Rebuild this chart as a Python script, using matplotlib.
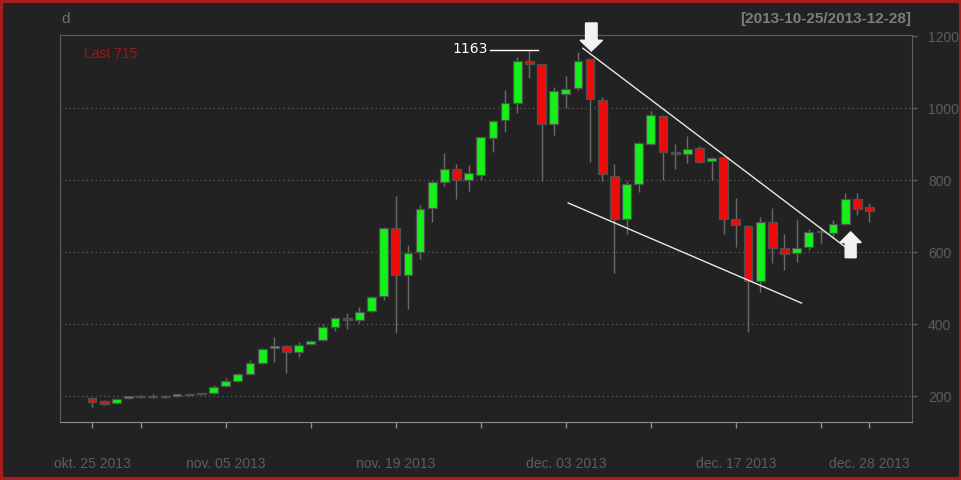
import numpy as np
import pandas as pd
import matplotlib
matplotlib.use("Agg")
import matplotlib.pyplot as plt
from matplotlib.patches import Rectangle

# daily OHLC, 2013-10-25 .. 2013-12-28
dates = [d.strftime("%Y-%m-%d") for d in pd.date_range("2013-10-25", "2013-12-28")]
opens = [194, 188, 181, 196, 197, 202, 197, 202, 203, 206,
         208, 228, 242, 263, 292, 333, 341, 322, 344, 356,
         393, 417, 412, 437, 478, 668, 537, 602, 722, 795,
         831, 800, 814, 917, 967, 1014, 1132, 1122, 955, 1040,
         1056, 1136, 1023, 812, 693, 789, 900, 979, 879, 874,
         890, 853, 864, 692, 674, 521, 685, 611, 597, 614,
         655, 653, 679, 747, 725]
highs = [196, 190, 195, 198, 204, 205, 204, 204, 205, 208,
         230, 252, 266, 300, 334, 365, 343, 350, 356, 400,
         420, 430, 449, 479, 670, 756, 620, 731, 797, 877,
         844, 842, 921, 968, 1051, 1143, 1163, 1124, 1058, 1090,
         1156, 1138, 1032, 844, 799, 905, 992, 981, 901, 923,
         896, 866, 866, 750, 676, 699, 722, 650, 692, 664,
         671, 690, 764, 764, 736]
lows = [170, 176, 179, 192, 195, 195, 194, 199, 200, 204,
        206, 226, 240, 261, 289, 296, 264, 310, 342, 354,
        380, 388, 404, 435, 467, 377, 442, 581, 685, 785,
        747, 771, 800, 879, 935, 988, 1083, 799, 926, 1000,
        1050, 850, 799, 542, 651, 767, 897, 801, 831, 849,
        848, 801, 651, 614, 379, 490, 569, 551, 574, 606,
        627, 640, 677, 703, 685]
closes = [185, 179, 193, 196, 202, 197, 202, 202, 203, 206,
          227, 242, 263, 292, 332, 341, 322, 343, 354, 393,
          417, 412, 435, 477, 668, 536, 599, 721, 795, 831,
          800, 819, 919, 966, 1016, 1132, 1123, 956, 1048, 1054,
          1132, 1025, 817, 692, 789, 903, 980, 879, 873, 887,
          852, 863, 692, 675, 521, 685, 611, 595, 613, 655,
          655, 678, 747, 721, 715]

tick_marks = ["2013-10-25", "2013-10-29", "2013-11-05", "2013-11-12", "2013-11-19",
              "2013-11-26", "2013-12-03", "2013-12-10", "2013-12-17", "2013-12-24",
              "2013-12-28"]
tick_labels = ["okt. 25 2013", "", "nov. 05 2013", "", "nov. 19 2013", "",
               "dec. 03 2013", "", "dec. 17 2013", "", "dec. 28 2013"]
y_ticks = [200, 400, 600, 800, 1000, 1200]

# hand drawn annotations (index, price)
trend_upper = [(40.4, 1167), (62.0, 615)]
trend_lower = [(39.2, 737), (58.4, 459)]
peak_idx = 36
down_arrow_idx = 41.1
up_arrow_idx = 62.45

BG = "#222222"
GREEN = "#16f01a"
RED = "#f00a0a"
AXC = "#5a5f5a"

plt.rcParams["font.family"] = ["Liberation Sans", "DejaVu Sans"]

fig = plt.figure(figsize=(9.62, 4.8), dpi=100, facecolor=BG)
ax = fig.add_axes([60 / 962, 1 - 422 / 480, 852 / 962, 387 / 480], facecolor=BG)

x = np.arange(len(dates))
o = np.array(opens, float)
c = np.array(closes, float)
colors = [GREEN if cc > oo else (RED if cc < oo else "#8a8a8a") for oo, cc in zip(o, c)]

for yv in y_ticks[:-1]:
    ax.axhline(yv, color="#5c5c5c", lw=0.9, ls=(0, (1, 2.5)), zorder=1)

ax.vlines(x, lows, highs, color="#6a6a6a", lw=1.0, zorder=2)
bottoms = np.minimum(o, c)
heights = np.maximum(np.abs(c - o), 4)
ax.bar(x, heights, bottom=bottoms, width=0.72, color=colors,
       edgecolor="#505050", linewidth=0.9, zorder=3)

# annotations
ax.plot(*zip(*trend_upper), color="#e8e8e8", lw=1.0, zorder=4)
ax.plot(*zip(*trend_lower), color="#e8e8e8", lw=1.0, zorder=4)
peak = highs[peak_idx]
ax.plot([peak_idx - 3.2, peak_idx + 0.7], [peak, peak], color="white", lw=1.0, zorder=4)
ax.text(peak_idx - 3.4, peak + 3, str(peak), color="white", fontsize=10,
        family="DejaVu Sans", ha="right", va="center")
ax.arrow(down_arrow_idx, 1237, 0, -78, width=0.95, head_width=1.85, head_length=30,
         length_includes_head=True, color="#f2f2f2", clip_on=False, zorder=5)
ax.arrow(up_arrow_idx, 585, 0, 72, width=0.9, head_width=1.75, head_length=30,
         length_includes_head=True, color="#f2f2f2", zorder=5)

ax.set_xlim(-2.64, 67.5)
ax.set_ylim(128.6, 1203.6)

ax.set_xticks([dates.index(d) for d in tick_marks])
ax.set_xticklabels(tick_labels)
ax.tick_params(axis="x", direction="out", length=4.5, width=1, color="#8a8f8a",
               labelcolor=AXC, labelsize=10, pad=21)
ax.yaxis.tick_right()
ax.set_yticks(y_ticks)
ax.tick_params(axis="y", direction="out", length=3.6, width=1, color=AXC,
               labelcolor=AXC, labelsize=10, pad=8)

for side in ["left", "right"]:
    ax.spines[side].set_color(AXC)
ax.spines["bottom"].set_color("#8a8f8a")
ax.spines["top"].set_color(AXC)
ax.spines["top"].set_linestyle((0, (1, 1)))

ax.text(0.028, 0.95, "Last " + str(closes[-1]), transform=ax.transAxes,
        color="#a81414", fontsize=10, va="center", ha="left")
fig.text(61 / 962, 1 - 19 / 480, "d", color="#6a6f6a", fontsize=11, va="center", ha="left")
fig.text(911 / 962, 1 - 19 / 480, "[" + dates[0] + "/" + dates[-1] + "]",
         color="#7a7f7a", fontsize=11, fontweight="bold", va="center", ha="right")

fig.patches.append(Rectangle((0.0015, 0.003), 0.997, 0.994, transform=fig.transFigure,
                             fill=False, edgecolor="#a81c1c", lw=3))

fig.savefig("out.png", dpi=100, facecolor=BG)
